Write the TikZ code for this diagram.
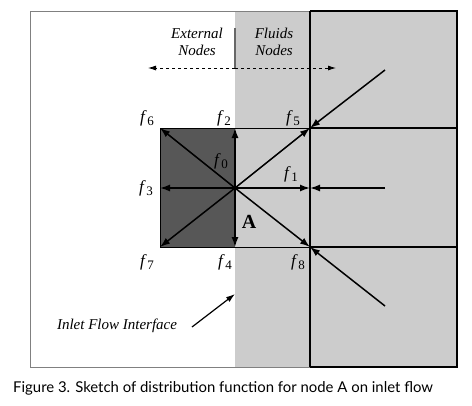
\documentclass[tikz,border=0pt]{standalone}
\usepackage{fontspec}
\setmainfont{Liberation Serif}
\newfontfamily\capfont{Lato}
\usetikzlibrary{arrows.meta,positioning}
\definecolor{fluidgray}{HTML}{CCCCCC}
\definecolor{wallgray}{HTML}{575757}
\definecolor{framegray}{HTML}{808080}
\newcommand{\fdir}[1]{\textit{f}\kern0.5pt\raisebox{-3.5pt}{\fontsize{13}{13}\selectfont #1}}

\begin{document}
\begin{tikzpicture}[x=1pt,y=-1pt,
  wall/.style={line width=2pt, black},
  cell/.style={line width=1pt, black},
  arr/.style={-{Latex[length=10pt,width=7pt]}, line width=1.5pt},
  dir/.style={font=\fontsize{17}{18}\selectfont, inner sep=1pt},
  note/.style={font=\fontsize{15}{17}\selectfont\itshape, align=center, inner sep=1pt}
]
\useasboundingbox (0,0) rectangle (472,405);

% regions
\fill[fluidgray] (235,11) rectangle (457,367);
\draw[framegray, line width=1pt] (30,11) rectangle (457,367);
\fill[wallgray] (160,128) rectangle (235,247);

% lattice
\draw[cell] (160,128) -- (310,128);
\draw[cell] (160,247) -- (310,247);
\draw[cell] (160,128) -- (160,247);
\draw[wall] (310,11) -- (457,11) -- (457,367) -- (310,367);
\draw[wall] (310,11) -- (310,367);
\draw[wall] (310,128) -- (457,128);
\draw[wall] (310,247) -- (457,247);

% lattice points
\node[inner sep=0pt] (A) at (235,188) {};
\coordinate (c1) at (310,188);
\coordinate (c2) at (235,128);
\coordinate (c3) at (160,188);
\coordinate (c4) at (235,247);
\coordinate (c5) at (310,128);
\coordinate (c6) at (160,128);
\coordinate (c7) at (160,247);
\coordinate (c8) at (310,247);
\coordinate (s5) at (385,70);
\coordinate (s1) at (385,188);
\coordinate (s8) at (385,306);

% outgoing
\foreach \k in {1,...,8}
  \draw[arr] (A.center) -- (c\k);
% incoming
\draw[arr] (s5) -- (c5);
\draw[arr] (s1) -- (c1);
\draw[arr] (s8) -- (c8);

% labels
\node[dir] (l6) at (147,118) {\fdir{6}};
\node[dir] (l2) at (224,118) {\fdir{2}};
\node[dir] (l5) at (293,118) {\fdir{5}};
\node[dir] (l0) at (221,161) {\fdir{0}};
\node[dir] (l1) at (291,174) {\fdir{1}};
\node[dir] (l3) at (146,188) {\fdir{3}};
\node[dir] (l7) at (147,262) {\fdir{7}};
\node[dir] (l4) at (225,262) {\fdir{4}};
\node[dir] (l8) at (298,262) {\fdir{8}};
\node[font=\fontsize{20}{22}\selectfont\bfseries, inner sep=0pt] (nA) at (249,222) {A};

% header
\node[note] (ext) at (197,42) {External\\Nodes};
\node[note] (fld) at (274,42) {Fluids\\Nodes};
\draw[framegray!80!black, line width=1.5pt] (235,28) -- (235,68);
\coordinate (dl) at (148,68);
\coordinate (dr) at (336,68);
\coordinate (dm) at (235,68);
\draw[dashed, line width=0.8pt, -{Latex[length=8pt,width=5pt]}] (dm) -- (dl);
\draw[dashed, line width=0.8pt, -{Latex[length=8pt,width=5pt]}] (dm) -- (dr);

% interface
\node[note] (inlet) at (117,326) {Inlet Flow Interface};
\coordinate (ifc) at (235,294);
\draw[-{Latex[length=9pt,width=6pt]}, line width=1.2pt] (192,327) -- (ifc);

% caption
\node[font=\capfont\fontsize{14.9}{16}\selectfont, anchor=west, inner sep=0pt] (cap) at (13,388)
  {Figure 3. Sketch of distribution function for node A on inlet flow};
\end{tikzpicture}
\end{document}
